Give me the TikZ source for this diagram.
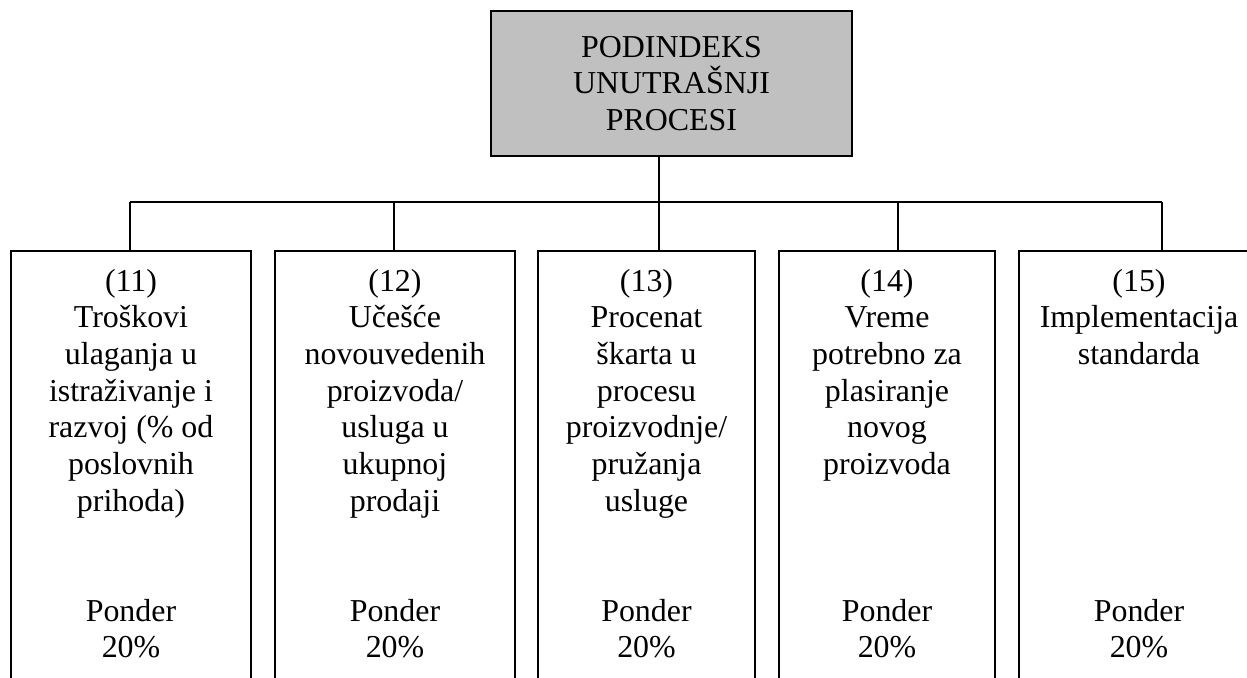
\documentclass[tikz,border=0pt]{standalone}
\usepackage{fontspec}
\setmainfont{Liberation Serif}
\usepackage{tikz}
\usetikzlibrary{positioning}

\definecolor{silver}{HTML}{C0C0C0}
\def\unitpx{0.376pt}

\begin{document}
\begin{tikzpicture}[
        x=0.376pt,
        y=-0.376pt,
        font=\fontsize{12}{13.8}\selectfont,
        line width=0.75pt,
        head/.style={draw, fill=silver, align=center, inner sep=0pt},
        kpi/.style={draw, anchor=north west, minimum height=520*\unitpx, inner sep=0pt},
        txt/.style={align=center, inner sep=0pt, anchor=north}
    ]
        \useasboundingbox (0,0) rectangle (1247,677);
        \clip (0,0) rectangle (1247,677);

        \node[head, minimum width=361*\unitpx, minimum height=145*\unitpx, anchor=north west]
            (head) at (490,10) {PODINDEKS\\UNUTRAŠNJI\\PROCESI};

        \node[kpi, minimum width=240*\unitpx] (b11) at (10,250) {};
        \node[kpi, minimum width=240*\unitpx] (b12) at (274,250) {};
        \node[kpi, minimum width=217*\unitpx] (b13) at (537,250) {};
        \node[kpi, minimum width=216*\unitpx] (b14) at (778,250) {};
        \node[kpi, minimum width=240*\unitpx] (b15) at (1018,250) {};

        \node[txt, below=18*\unitpx] (t11) at (b11.north) {(11)\\Troškovi\\ulaganja u\\istraživanje i\\razvoj (\% od\\poslovnih\\prihoda)};
        \node[txt, below=18*\unitpx] (t12) at (b12.north) {(12)\\Učešće\\novouvedenih\\proizvoda/\\usluga u\\ukupnoj\\prodaji};
        \node[txt, below=18*\unitpx] (t13) at (b13.north) {(13)\\Procenat\\škarta u\\procesu\\proizvodnje/\\pružanja\\usluge};
        \node[txt, below=18*\unitpx] (t14) at (b14.north) {(14)\\Vreme\\potrebno za\\plasiranje\\novog\\proizvoda};
        \node[txt, below=18*\unitpx] (t15) at (b15.north) {(15)\\Implementacija\\standarda};

        \foreach \n in {11,...,15} {
            \node[txt, below=348*\unitpx] (p\n) at (b\n.north) {Ponder\\20\%};
        }

        % bus between the head and the five boxes
        \coordinate (d11) at (130,202);
        \coordinate (d12) at (394,202);
        \coordinate (d13) at (659,202);
        \coordinate (d14) at (898,202);
        \coordinate (d15) at (1162,202);

        \draw (head.south -| d13) -- (d13);
        \draw (d11) -- (d15);
        \foreach \n in {11,...,15} {
            \draw (d\n) -- (d\n |- b\n.north);
        }
    \end{tikzpicture}
\end{document}
